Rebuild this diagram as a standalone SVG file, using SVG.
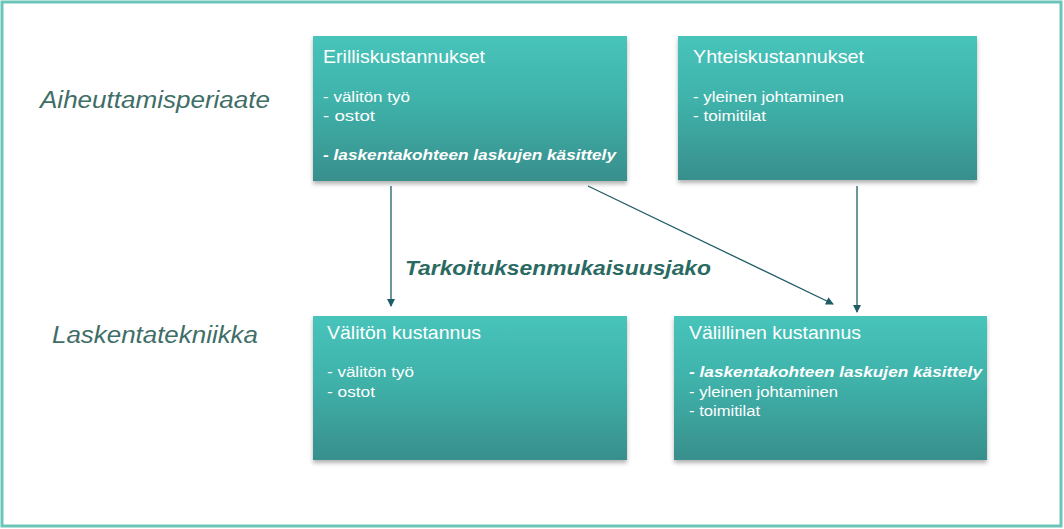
<svg xmlns="http://www.w3.org/2000/svg" width="1064" height="529" viewBox="0 0 1064 529">
<style>
.lbl{font-family:"Liberation Sans",Arial,sans-serif;font-style:italic;fill:#3f6e68;font-size:23px}
.mid{font-family:"Liberation Sans",Arial,sans-serif;font-style:italic;font-weight:bold;fill:#2a6a62;font-size:20px}
.ttl{font-family:"Liberation Sans",Arial,sans-serif;fill:#ffffff;font-size:19px}
.itm{font-family:"Liberation Sans",Arial,sans-serif;fill:#ffffff;font-size:15.5px}
.bi{font-style:italic;font-weight:bold}
.box{fill:url(#g);filter:url(#sh)}
.con{stroke:#1f5d66;stroke-width:1.3;fill:none;marker-end:url(#ah)}
</style>
<defs>
<linearGradient id="g" x1="0" y1="0" x2="0" y2="1">
<stop offset="0" stop-color="#47c4bb"/>
<stop offset="0.45" stop-color="#3fb2aa"/>
<stop offset="1" stop-color="#388f8c"/>
</linearGradient>
<filter id="sh" x="-5%" y="-5%" width="110%" height="115%">
<feDropShadow dx="0" dy="3" stdDeviation="2" flood-color="#000" flood-opacity="0.3"/>
</filter>
<marker id="ah" markerWidth="8" markerHeight="8" refX="7" refY="4" orient="auto" markerUnits="userSpaceOnUse">
<path d="M0,0 L8,4 L0,8 Z" fill="#1f5d66"/>
</marker>
</defs>
<rect x="0" y="0" width="1064" height="529" fill="#ffffff"/>
<rect x="2" y="2" width="1059" height="524" fill="none" stroke="#6cc5b9" stroke-width="3"/>
<text class="lbl" x="40" y="108" textLength="230" lengthAdjust="spacingAndGlyphs">Aiheuttamisperiaate</text>
<text class="lbl" x="52" y="343" textLength="206" lengthAdjust="spacingAndGlyphs">Laskentatekniikka</text>
<text class="mid" x="405" y="275" textLength="306" lengthAdjust="spacingAndGlyphs">Tarkoituksenmukaisuusjako</text>
<g id="connectors">
<line class="con" x1="391" y1="186" x2="391" y2="306"/>
<line class="con" x1="588" y1="186" x2="833" y2="304"/>
<line class="con" x1="857" y1="186" x2="857" y2="312"/>
</g>
<g id="erillis">
<rect class="box" x="313" y="36" width="314" height="145"/>
<text class="ttl" x="323" y="63" textLength="162" lengthAdjust="spacingAndGlyphs">Erilliskustannukset</text>
<text class="itm" x="323" y="102" textLength="87" lengthAdjust="spacingAndGlyphs">- välitön  työ</text>
<text class="itm" x="323" y="121" textLength="52" lengthAdjust="spacingAndGlyphs">- ostot</text>
<text class="itm bi" x="323" y="160" textLength="293" lengthAdjust="spacingAndGlyphs">- laskentakohteen laskujen käsittely</text>
</g>
<g id="yhteis">
<rect class="box" x="678" y="36" width="299" height="144"/>
<text class="ttl" x="693" y="63" textLength="171" lengthAdjust="spacingAndGlyphs">Yhteiskustannukset</text>
<text class="itm" x="693" y="102" textLength="151" lengthAdjust="spacingAndGlyphs">- yleinen  johtaminen</text>
<text class="itm" x="693" y="121" textLength="73" lengthAdjust="spacingAndGlyphs">- toimitilat</text>
</g>
<g id="valiton">
<rect class="box" x="313" y="316" width="314" height="144"/>
<text class="ttl" x="327" y="339" textLength="154" lengthAdjust="spacingAndGlyphs">Välitön  kustannus</text>
<text class="itm" x="327" y="377" textLength="87" lengthAdjust="spacingAndGlyphs">- välitön  työ</text>
<text class="itm" x="327" y="397" textLength="48" lengthAdjust="spacingAndGlyphs">- ostot</text>
</g>
<g id="valillinen">
<rect class="box" x="674" y="316" width="313" height="144"/>
<text class="ttl" x="689" y="339" textLength="172" lengthAdjust="spacingAndGlyphs">Välillinen  kustannus</text>
<text class="itm bi" x="689" y="377" textLength="293" lengthAdjust="spacingAndGlyphs">- laskentakohteen laskujen käsittely</text>
<text class="itm" x="689" y="397" textLength="149" lengthAdjust="spacingAndGlyphs">- yleinen  johtaminen</text>
<text class="itm" x="689" y="416" textLength="71" lengthAdjust="spacingAndGlyphs">- toimitilat</text>
</g>
</svg>
